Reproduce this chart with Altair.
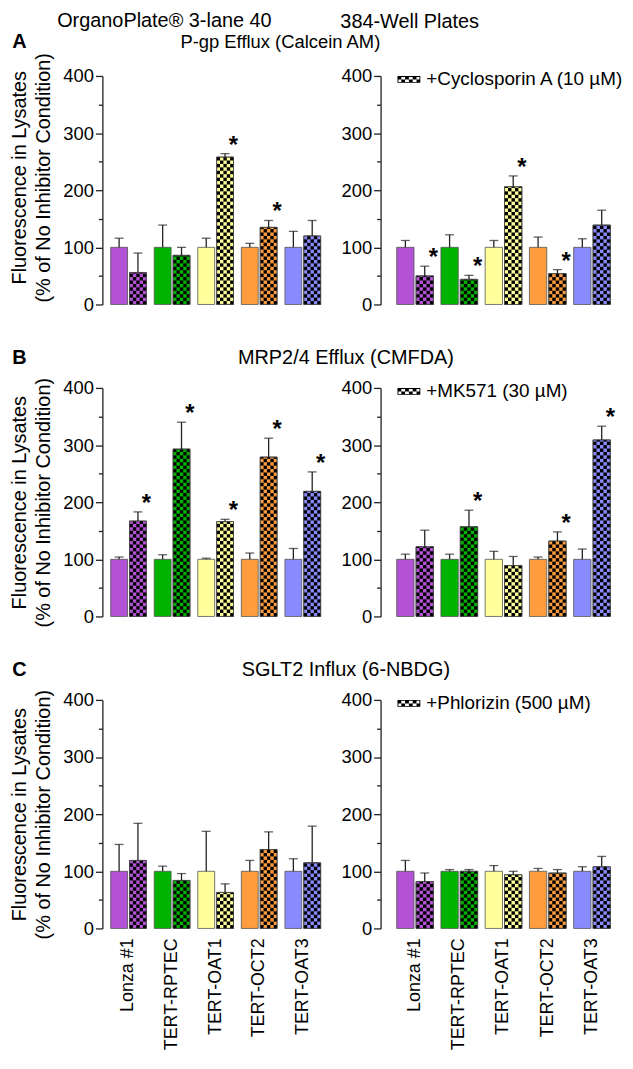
import math
import altair as alt
import pandas as pd

FONT = "Liberation Sans"

# ---------------- categories / labels ----------------
CELL_LINES = ["Lonza #1", "TERT-RPTEC", "TERT-OAT1", "TERT-OCT2", "TERT-OAT3"]
BAR_COLORS = ["#B352D4", "#00B300", "#FFFF9C", "#FF9D3E", "#8A8AFF"]
CONDITIONS = ["ctrl", "inh"]
PLATES = ["OrganoPlate® 3-lane 40", "384-Well Plates"]
PANEL_LETTERS = ["A", "B", "C"]
ASSAYS = ["P-gp Efflux (Calcein AM)", "MRP2/4 Efflux (CMFDA)", "SGLT2 Influx (6-NBDG)"]
INHIBITORS = ["+Cyclosporin A (10 µM)", "+MK571 (30 µM)", "+Phlorizin (500 µM)"]
Y_TITLE = ["Fluorescence in Lysates", "(% of No Inhibitor Condition)"]
Y_MAJOR = [0, 100, 200, 300, 400]
Y_MINOR = [50, 150, 250, 350]

# ---------------- values (% of no-inhibitor condition) ----------------
# Row A: P-gp efflux (Calcein AM) +/- Cyclosporin A
A_OP_CTRL = [100, 100, 100, 100, 100]
A_OP_CTRL_ERR = [16, 39, 16, 7, 28]
A_OP_INH = [56, 86, 258, 135, 120]
A_OP_INH_ERR = [34, 14, 6, 12, 27]
A_OP_SIG = [0, 0, 1, 1, 0]

A_WP_CTRL = [100, 100, 100, 100, 100]
A_WP_CTRL_ERR = [12, 22, 12, 18, 15]
A_WP_INH = [50, 44, 206, 54, 139]
A_WP_INH_ERR = [17, 7, 19, 7, 26]
A_WP_SIG = [1, 1, 1, 1, 0]

# Row B: MRP2/4 efflux (CMFDA) +/- MK571
B_OP_CTRL = [100, 100, 100, 100, 100]
B_OP_CTRL_ERR = [4, 8, 2, 11, 19]
B_OP_INH = [167, 293, 166, 279, 219]
B_OP_INH_ERR = [16, 47, 4, 33, 34]
B_OP_SIG = [1, 1, 1, 1, 1]

B_WP_CTRL = [100, 100, 100, 100, 100]
B_WP_CTRL_ERR = [9, 9, 14, 4, 18]
B_WP_INH = [122, 157, 89, 132, 309]
B_WP_INH_ERR = [29, 29, 16, 16, 24]
B_WP_SIG = [0, 1, 0, 1, 1]

# Row C: SGLT2 influx (6-NBDG) +/- Phlorizin
C_OP_CTRL = [100, 100, 100, 100, 100]
C_OP_CTRL_ERR = [47, 9, 70, 19, 22]
C_OP_INH = [119, 84, 63, 138, 115]
C_OP_INH_ERR = [65, 12, 15, 31, 64]
C_OP_SIG = [0, 0, 0, 0, 0]

C_WP_CTRL = [100, 100, 100, 100, 100]
C_WP_CTRL_ERR = [19, 3, 10, 5, 8]
C_WP_INH = [82, 100, 94, 97, 108]
C_WP_INH_ERR = [15, 3, 6, 6, 18]
C_WP_SIG = [0, 0, 0, 0, 0]

PANELS = [
    [(A_OP_CTRL, A_OP_CTRL_ERR, A_OP_INH, A_OP_INH_ERR, A_OP_SIG),
     (A_WP_CTRL, A_WP_CTRL_ERR, A_WP_INH, A_WP_INH_ERR, A_WP_SIG)],
    [(B_OP_CTRL, B_OP_CTRL_ERR, B_OP_INH, B_OP_INH_ERR, B_OP_SIG),
     (B_WP_CTRL, B_WP_CTRL_ERR, B_WP_INH, B_WP_INH_ERR, B_WP_SIG)],
    [(C_OP_CTRL, C_OP_CTRL_ERR, C_OP_INH, C_OP_INH_ERR, C_OP_SIG),
     (C_WP_CTRL, C_WP_CTRL_ERR, C_WP_INH, C_WP_INH_ERR, C_WP_SIG)],
]

# ---------------- style ----------------
PLOT_H = 230
PLOT_W = [228, 240]
BAR_GAP = 0.105                 # inner padding between the two bars of a group
CHECK_COLS = ["k0", "k1", "k2", "k3", "k4"]
CHECK_SLOTS = ["d0", "d1", "d2", "d3", "d4"] + CHECK_COLS   # d* = slots under the plain bar
CHECK_H = 6.0                   # checker cell height in data units
AXIS_COLOR = "#222222"
Y_TITLE_POS = [102, 115, 115]
HEAD_Y = [-28, -24.5, -24.5]    # baseline of panel letter / assay title above plot
LETTER_X = -90.6
ASSAY_X = [-100.9, -34.9, -34.9]
ASSAY_FS = [18.5, 20, 20]
HEADER_DX = [-51.6, -90.7]


def bar_table(ctrl, ctrl_err, inh, inh_err, sig):
    recs = []
    for i, name in enumerate(CELL_LINES):
        recs.append({"cell": name, "cond": "ctrl", "mean": ctrl[i],
                     "top": ctrl[i] + ctrl_err[i], "star": ""})
        recs.append({"cell": name, "cond": "inh", "mean": inh[i],
                     "top": inh[i] + inh_err[i], "star": "*" if sig[i] else ""})
    return pd.DataFrame(recs)


def checker_table(inh, label):
    recs = []
    for i, name in enumerate(CELL_LINES):
        m = inh[i]
        n = int(math.ceil(m / CHECK_H))
        for r in range(n):
            y0 = r * CHECK_H
            y1 = min(m, (r + 1) * CHECK_H)
            for c, key in enumerate(CHECK_COLS):
                if (r + c) % 2 == 0:
                    recs.append({"cell": name, "col": key, "y0": y0, "y1": y1, "key": label})
    return pd.DataFrame(recs)


def checker_symbol():
    # legend swatch: frame ring + black checker squares, in [-1, 1] coordinates
    h = 0.3
    t = 0.08
    p = f"M-1,{-h}H1V{h}H-1Z M{-1+t},{-h+t}V{h-t}H{1-t}V{-h+t}Z"
    ncol, nrow = 6, 2
    w = 2.0 / ncol
    rh = 2 * h / nrow
    for r in range(nrow):
        for c in range(ncol):
            if (r + c) % 2 == 0:
                x0 = -1 + c * w
                y0 = -h + r * rh
                p += f" M{x0:.3f},{y0:.3f}h{w:.3f}v{rh:.3f}h{-w:.3f}Z"
    return p


Y_SCALE = alt.Scale(domain=[0, 400], nice=False, zero=True)
X_SCALES = [
    alt.Scale(domain=CELL_LINES, paddingInner=0.18, paddingOuter=0.19),
    alt.Scale(domain=CELL_LINES, paddingInner=0.17, paddingOuter=0.28, align=0.65),
]
# checker columns line up with the hatched bar: (2*po + 5 slots) * step == plain-bar step
CHECK_PO = (5.0 / (1 - BAR_GAP) - 5.0) / 2.0


def y_axis_major(left, row):
    common = dict(
        values=Y_MAJOR, tickSize=7, orient="left",
        labelFont=FONT, labelFontSize=18.5, labelPadding=2, labelColor="black",
        labelOverlap=False,
        domainColor=AXIS_COLOR, tickColor=AXIS_COLOR, domainWidth=1.3, tickWidth=1.3,
        grid=False,
    )
    if left:
        return alt.Axis(title=Y_TITLE, titleFont=FONT, titleFontSize=20,
                        titleFontWeight="normal", titleColor="black",
                        titlePadding=9, titleLineHeight=25, titleY=Y_TITLE_POS[row],
                        **common)
    return alt.Axis(title=None, **common)


def y_axis_minor():
    return alt.Axis(values=Y_MINOR, tickSize=4, orient="left", labels=False,
                    domain=False, grid=False, title=None,
                    tickColor=AXIS_COLOR, tickWidth=1.3)


X_AXIS = alt.Axis(title=None, ticks=False, labels=False,
                  domainColor=AXIS_COLOR, domainWidth=1.3)


def make_panel(row, col):
    ctrl, ctrl_err, inh, inh_err, sig = PANELS[row][col]
    df = bar_table(ctrl, ctrl_err, inh, inh_err, sig)
    cells = checker_table(inh, INHIBITORS[row])
    left = col == 0
    bottom = row == 2

    x = alt.X("cell:N", sort=CELL_LINES, scale=X_SCALES[col], axis=X_AXIS)
    x_plain = alt.X("cell:N", sort=CELL_LINES, scale=X_SCALES[col], axis=None)
    xo_scale = alt.Scale(domain=CONDITIONS, paddingInner=BAR_GAP, paddingOuter=0)
    xo = alt.XOffset("cond:N", sort=CONDITIONS, scale=xo_scale)

    base = alt.Chart(df)
    bars = base.mark_bar(stroke="#555555", strokeWidth=0.8).encode(
        x=x, xOffset=xo,
        y=alt.Y("mean:Q", scale=Y_SCALE, axis=y_axis_major(left, row)),
        fill=alt.Fill("cell:N", scale=alt.Scale(domain=CELL_LINES, range=BAR_COLORS), legend=None),
    )

    if left:
        legend = None
    else:
        legend = alt.Legend(title=None, orient="none", legendX=17, legendY=-8,
                            symbolType=checker_symbol(), symbolSize=529,
                            symbolStrokeWidth=0, symbolOpacity=1,
                            labelFont=FONT, labelFontSize=19, labelColor="black",
                            labelOffset=6, labelLimit=400, padding=0)
    checks = alt.Chart(cells).mark_rect(strokeWidth=0).encode(
        x=x_plain,
        xOffset=alt.XOffset("col:N", sort=CHECK_SLOTS,
                            scale=alt.Scale(domain=CHECK_SLOTS, paddingInner=0,
                                            paddingOuter=round(CHECK_PO, 5), align=1)),
        y=alt.Y("y0:Q", scale=Y_SCALE, axis=None),
        y2="y1:Q",
        color=alt.Color("key:N", scale=alt.Scale(range=["#000000"]), legend=legend),
    )

    outline = base.transform_filter(alt.datum.cond == "inh").mark_bar(
        fillOpacity=0, stroke="#444444", strokeWidth=0.8).encode(
        x=x_plain, xOffset=xo, y=alt.Y("mean:Q", scale=Y_SCALE, axis=None))

    err = base.mark_rule(color=AXIS_COLOR, strokeWidth=1.3).encode(
        x=x_plain, xOffset=xo,
        y=alt.Y("mean:Q", scale=Y_SCALE, axis=y_axis_minor()), y2="top:Q")
    cap = base.mark_tick(color=AXIS_COLOR, thickness=1.3, size=9).encode(
        x=x_plain, xOffset=xo, y=alt.Y("top:Q", scale=Y_SCALE, axis=None))
    star = base.transform_filter("datum.star != ''").mark_text(
        font=FONT, fontSize=24, fontWeight="bold", baseline="alphabetic", dy=-1,
        color="black").encode(
        x=x_plain, xOffset=xo, y=alt.Y("top:Q", scale=Y_SCALE, axis=None),
        text="star:N")

    layers = [bars, checks, outline, err, cap, star]
    if left:
        head = alt.Chart(pd.DataFrame({"t": [PANEL_LETTERS[row]]})).mark_text(
            font=FONT, fontSize=20, fontWeight="bold", align="left",
            baseline="alphabetic", color="black").encode(
            text="t:N", x=alt.value(LETTER_X), y=alt.value(HEAD_Y[row]))
    else:
        head = alt.Chart(pd.DataFrame({"t": [ASSAYS[row]]})).mark_text(
            font=FONT, fontSize=ASSAY_FS[row], fontWeight="normal", align="center",
            baseline="alphabetic", color="black").encode(
            text="t:N", x=alt.value(ASSAY_X[row]), y=alt.value(HEAD_Y[row]))
    layers.append(head)

    if bottom:
        # category labels under the bottom panels, placed through the x band scale
        xlab = alt.Chart(pd.DataFrame({"cell": CELL_LINES})).mark_text(
            font=FONT, fontSize=18, angle=270, align="right", baseline="middle",
            color="black").encode(
            x=x_plain, y=alt.value(PLOT_H + 10), text="cell:N")
        layers.append(xlab)

    props = dict(width=PLOT_W[col], height=PLOT_H)
    if row == 0:
        props["title"] = alt.TitleParams(PLATES[col], anchor="middle", frame="group",
                                         dx=HEADER_DX[col], offset=1, font=FONT,
                                         fontSize=20, fontWeight="normal", color="black")

    return alt.layer(*layers).resolve_scale(
        xOffset="independent", color="independent", fill="independent"
    ).resolve_axis(y="independent").properties(**props)


panels = [make_panel(r, c) for r in range(3) for c in range(2)]

chart = alt.concat(*panels, columns=2, spacing={"row": 84, "column": 52},
                   bounds="flush", align="each").resolve_scale(
    color="independent", fill="independent"
).properties(padding={"left": 1, "top": 0, "right": 0, "bottom": 0}).configure(
    background="white"
).configure_view(stroke=None)

chart.save("out.html", embed_options={"renderer": "svg", "actions": False})
